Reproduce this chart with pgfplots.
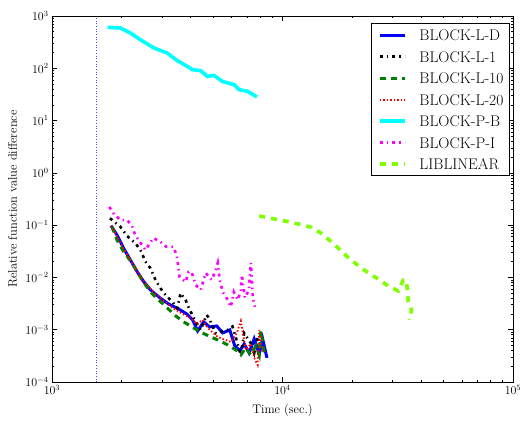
\documentclass[border=0pt]{standalone}
\usepackage{pgfplots}
\pgfplotsset{compat=1.18}
\definecolor{lawn}{RGB}{127,255,0}
\definecolor{mplgreen}{RGB}{0,128,0}
\definecolor{mplcyan}{RGB}{0,255,255}
\definecolor{mplmagenta}{RGB}{255,0,255}
\definecolor{mplblue}{RGB}{0,0,255}

\begin{document}
\begin{tikzpicture}
\begin{loglogaxis}[
  width=461bp, height=366bp, scale only axis,
  xmin=1000, xmax=100000, ymin=1e-4, ymax=1e3,
  xlabel={Time (sec.)},
  ylabel={Relative function value difference},
  tick label style={font=\fontsize{12}{14}\selectfont},
  label style={font=\fontsize{12.5}{14}\selectfont},
  xlabel style={at={(axis description cs:0.5,-0.052)}, anchor=north},
  ylabel style={at={(axis description cs:-0.068,0.5)}, anchor=south},
  major tick length=5bp, minor tick length=2.5bp,
  tick style={black, line width=0.6bp},
  axis line style={line width=0.8bp},
  legend cell align=left,
  legend image code/.code={\draw[#1] (0bp,0bp) -- (25bp,0bp);},
  legend style={at={(0.993,0.981)}, anchor=north east,
    font=\fontsize{15.5}{17}\selectfont, draw=black, line width=0.8bp,
    inner sep=6bp, row sep=10bp,
    nodes={inner sep=0pt, text height=11.5bp, text depth=0bp},
    /tikz/every odd column/.append style={column sep=13bp}},
]
% vertical marker
\addplot[mplblue!70, dotted, line width=0.7bp, forget plot] coordinates {(1550,1e-4) (1550,1e3)};

\addplot[mplblue, line width=3bp] table {
x y
1802 0.0978
1914 0.0650
2045 0.0361
2188 0.0216
2340 0.0129
2499 0.00831
2673 0.00577
2955 0.00400
3202 0.00311
3540 0.00250
3836 0.00201
4074 0.00154
4283 0.000949
4550 0.00141
4832 0.00113
5183 0.00118
5503 0.000869
5906 0.000991
6209 0.000490
6530 0.000394
6817 0.000535
7166 0.000360
7537 0.000667
7925 0.000344
8200 0.000667
8560 0.000289
};
\addlegendentry{BLOCK-L-D}

\addplot[black, line width=2.6bp, dash pattern=on 3bp off 4bp on 1.5bp off 4bp] table {
x y
1784 0.1355
1978 0.0936
2116 0.0621
2300 0.0451
2418 0.0336
2543 0.0201
2673 0.0150
2811 0.00895
2955 0.00621
3107 0.00463
3323 0.00344
3494 0.00258
3612 0.00499
3798 0.00372
3926 0.00258
4200 0.00143
4415 0.000991
4688 0.00192
4798 0.00166
5131 0.000857
5771 0.000991
6067 0.00115
6379 0.000552
6596 0.000330
6817 0.000857
7290 0.000552
7537 0.000356
7800 0.000738
8060 0.000411
};
\addlegendentry{BLOCK-L-1}

\addplot[mplgreen, line width=3bp, dash pattern=on 6bp off 5bp] table {
x y
1820 0.0936
1914 0.0521
2045 0.0311
2225 0.0189
2459 0.00895
2673 0.00528
2897 0.00372
3161 0.00261
3436 0.00184
3734 0.00141
4115 0.00108
4490 0.000869
4881 0.000728
5236 0.000638
5788 0.000512
6272 0.000411
6596 0.000330
6934 0.000449
7290 0.000330
7665 0.000490
7925 0.000330
8060 0.000949
8330 0.000360
};
\addlegendentry{BLOCK-L-10}

\addplot[red, line width=1.8bp, dash pattern=on 1.5bp off 2bp] table {
x y
1807 0.0966
1920 0.0595
2059 0.0336
2210 0.0198
2370 0.0122
2543 0.00785
2728 0.00552
3015 0.00372
3333 0.00261
3685 0.00201
3994 0.00168
4241 0.00129
4504 0.00154
4735 0.00108
5236 0.000728
5966 0.000585
6336 0.000869
6596 0.00147
6934 0.000411
7290 0.000535
7590 0.000265
7800 0.000212
7925 0.000991
8200 0.000360
};
\addlegendentry{BLOCK-L-20}

\addplot[mplcyan, line width=3.6bp] table {
x y
1742 608
1978 590
2188 473
2418 352
2763 245
3160 196
3494 140
3863 109
4061 94
4415 90
4721 70
5045 73
5487 56
6166 48.6
6485 39
7050 36.3
7743 28.3
};
\addlegendentry{BLOCK-P-B}

\addplot[mplmagenta, line width=2.6bp, dash pattern=on 3bp off 4bp on 1.5bp off 4bp] table {
x y
1772 0.223
1844 0.171
1978 0.1257
2122 0.1257
2232 0.0924
2277 0.0709
2370 0.0521
2543 0.0336
2755 0.0569
2955 0.0477
3139 0.0383
3367 0.0383
3470 0.0269
3540 0.0152
3576 0.0102
3798 0.0082
3914 0.0127
4033 0.0127
4200 0.0072
4415 0.00577
4642 0.0122
4930 0.00895
5131 0.0139
5236 0.0189
5342 0.00895
5503 0.00528
5788 0.00372
5966 0.00273
6147 0.00528
6400 0.00372
6596 0.00577
6662 0.0112
6867 0.00406
7145 0.00577
7290 0.0189
7439 0.00406
7590 0.00273
};
\addlegendentry{BLOCK-P-I}

\addplot[lawn, line width=3.6bp, dash pattern=on 6bp off 6bp] table {
x y
7925 0.150
9210 0.1315
10540 0.1167
11840 0.104
13310 0.0912
14720 0.070
16270 0.0484
17990 0.0321
19550 0.0226
21610 0.0161
23890 0.0117
26410 0.00895
28730 0.00688
31770 0.00552
33400 0.00884
34520 0.00857
35130 0.00345
36310 0.00239
35480 0.00154
};
\addlegendentry{LIBLINEAR}
\end{loglogaxis}
\path ([shift={(-52bp,-33bp)}]current axis.south west) rectangle ([shift={(17bp,16bp)}]current axis.north east);
\end{tikzpicture}
\end{document}
